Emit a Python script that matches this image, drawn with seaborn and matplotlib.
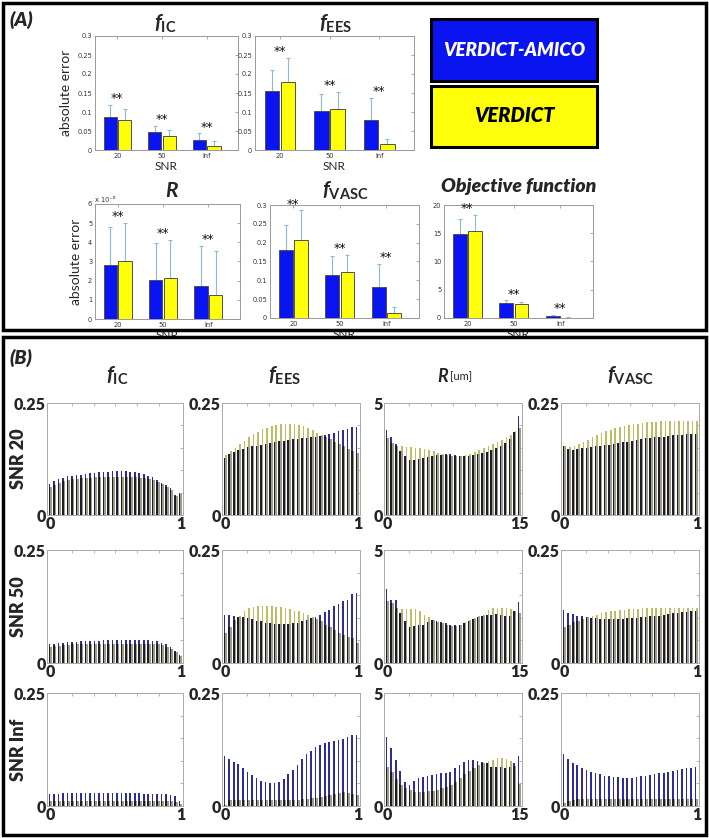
import numpy as np
import pandas as pd
import seaborn as sns
import matplotlib.pyplot as plt
from matplotlib.patches import Rectangle
from matplotlib.ticker import FixedLocator, FuncFormatter

# ---------------- panel A : mean absolute error (+ upper std) ----------------
snr = ['20', '50', 'Inf']
methods = ['VERDICT-AMICO', 'VERDICT']

fic_amico = [0.088, 0.047, 0.027]
fic_verdict = [0.079, 0.038, 0.011]
fic_amico_err = [0.030, 0.016, 0.017]
fic_verdict_err = [0.029, 0.014, 0.012]

fees_amico = [0.155, 0.102, 0.080]
fees_verdict = [0.178, 0.109, 0.015]
fees_amico_err = [0.056, 0.046, 0.057]
fees_verdict_err = [0.065, 0.043, 0.015]

r_amico = [2.80, 2.03, 1.70]          # x 1e-6
r_verdict = [3.05, 2.15, 1.25]
r_amico_err = [2.00, 1.94, 2.12]
r_verdict_err = [1.97, 1.98, 2.30]

fvasc_amico = [0.180, 0.114, 0.082]
fvasc_verdict = [0.208, 0.122, 0.013]
fvasc_amico_err = [0.066, 0.051, 0.061]
fvasc_verdict_err = [0.078, 0.046, 0.016]

obj_amico = [14.9, 2.6, 0.3]
obj_verdict = [15.4, 2.4, 0.05]
obj_amico_err = [2.7, 0.5, 0.3]
obj_verdict_err = [2.9, 0.5, 0.05]

# ---------------- panel B : 30-bin histograms (AMICO, VERDICT) ----------------
ic20_a = [0.069, 0.075, 0.080, 0.083, 0.086, 0.087, 0.089, 0.090, 0.092, 0.093, 0.094, 0.096, 0.097, 0.097, 0.098,
          0.099, 0.099, 0.098, 0.097, 0.095, 0.093, 0.091, 0.088, 0.084, 0.078, 0.071, 0.066, 0.060, 0.044, 0.048]
ic20_v = [0.062, 0.068, 0.072, 0.075, 0.078, 0.080, 0.081, 0.082, 0.083, 0.083, 0.084, 0.084, 0.084, 0.085, 0.085,
          0.085, 0.085, 0.085, 0.085, 0.084, 0.083, 0.082, 0.080, 0.078, 0.074, 0.069, 0.063, 0.055, 0.042, 0.047]
ic50_a = [0.041, 0.043, 0.044, 0.045, 0.046, 0.047, 0.047, 0.048, 0.048, 0.049, 0.049, 0.049, 0.050, 0.050, 0.050,
          0.050, 0.050, 0.050, 0.050, 0.050, 0.050, 0.050, 0.050, 0.049, 0.048, 0.045, 0.041, 0.035, 0.027, 0.017]
ic50_v = [0.035, 0.037, 0.038, 0.039, 0.040, 0.041, 0.041, 0.042, 0.042, 0.042, 0.043, 0.043, 0.043, 0.043, 0.043,
          0.043, 0.043, 0.043, 0.043, 0.043, 0.043, 0.043, 0.042, 0.042, 0.041, 0.039, 0.036, 0.031, 0.024, 0.016]
icinf_a = [0.026, 0.027, 0.027, 0.028, 0.028, 0.028, 0.028, 0.028, 0.028, 0.028, 0.028, 0.028, 0.028, 0.028, 0.028,
           0.028, 0.028, 0.028, 0.028, 0.028, 0.028, 0.027, 0.027, 0.027, 0.027, 0.027, 0.026, 0.025, 0.022, 0.011]
icinf_v = [0.011, 0.012, 0.012, 0.012, 0.012, 0.012, 0.012, 0.012, 0.012, 0.012, 0.012, 0.012, 0.012, 0.012, 0.012,
           0.012, 0.012, 0.012, 0.012, 0.012, 0.012, 0.012, 0.012, 0.012, 0.012, 0.012, 0.011, 0.011, 0.009, 0.005]

ees20_a = [0.127, 0.136, 0.140, 0.145, 0.148, 0.151, 0.153, 0.155, 0.157, 0.159, 0.161, 0.163, 0.165, 0.166, 0.168,
           0.169, 0.170, 0.171, 0.172, 0.173, 0.175, 0.177, 0.179, 0.181, 0.184, 0.187, 0.190, 0.193, 0.196, 0.197]
ees20_v = [0.134, 0.142, 0.150, 0.158, 0.166, 0.173, 0.180, 0.186, 0.191, 0.195, 0.198, 0.201, 0.203, 0.204, 0.204,
           0.203, 0.201, 0.198, 0.194, 0.189, 0.184, 0.179, 0.174, 0.169, 0.164, 0.159, 0.153, 0.147, 0.142, 0.138]
ees50_a = [0.106, 0.106, 0.104, 0.102, 0.101, 0.099, 0.097, 0.094, 0.092, 0.089, 0.088, 0.086, 0.086, 0.086, 0.086,
           0.088, 0.089, 0.092, 0.095, 0.099, 0.102, 0.106, 0.113, 0.117, 0.126, 0.130, 0.137, 0.140, 0.153, 0.154]
ees50_v = [0.066, 0.080, 0.095, 0.104, 0.114, 0.121, 0.125, 0.126, 0.126, 0.126, 0.126, 0.125, 0.123, 0.121, 0.119,
           0.116, 0.114, 0.110, 0.106, 0.101, 0.097, 0.092, 0.084, 0.080, 0.073, 0.067, 0.062, 0.058, 0.056, 0.044]
eesinf_a = [0.111, 0.105, 0.098, 0.093, 0.084, 0.076, 0.068, 0.062, 0.056, 0.053, 0.051, 0.051, 0.054, 0.060, 0.070,
            0.080, 0.091, 0.103, 0.115, 0.122, 0.130, 0.135, 0.139, 0.142, 0.144, 0.146, 0.149, 0.153, 0.156, 0.157]
eesinf_v = [0.002, 0.014, 0.014, 0.014, 0.014, 0.014, 0.014, 0.014, 0.014, 0.014, 0.014, 0.014, 0.014, 0.014, 0.014,
            0.014, 0.014, 0.015, 0.016, 0.017, 0.018, 0.020, 0.022, 0.024, 0.026, 0.029, 0.030, 0.029, 0.026, 0.024]

r20_a = [3.81, 3.50, 3.15, 2.85, 2.62, 2.45, 2.45, 2.50, 2.55, 2.58, 2.62, 2.66, 2.70, 2.72, 2.72,
         2.68, 2.65, 2.64, 2.65, 2.68, 2.72, 2.77, 2.83, 2.90, 2.98, 3.08, 3.20, 3.38, 3.72, 4.40]
r20_v = [3.43, 3.22, 3.10, 3.06, 3.03, 3.02, 3.01, 3.00, 2.96, 2.92, 2.86, 2.79, 2.72, 2.68, 2.64,
         2.63, 2.64, 2.68, 2.74, 2.81, 2.90, 2.99, 3.07, 3.15, 3.25, 3.35, 3.46, 3.58, 3.75, 3.90]
r50_a = [3.28, 2.77, 2.78, 2.22, 1.85, 1.60, 1.63, 1.66, 1.70, 1.83, 1.90, 1.86, 1.80, 1.75, 1.70,
         1.66, 1.70, 1.76, 1.84, 1.95, 2.04, 2.08, 2.11, 2.14, 2.15, 2.13, 2.08, 2.10, 2.29, 2.69]
r50_v = [2.75, 2.66, 2.44, 2.40, 2.38, 2.38, 2.40, 2.30, 2.14, 2.04, 1.92, 1.82, 1.75, 1.68, 1.63,
         1.63, 1.70, 1.80, 1.92, 2.00, 2.07, 2.14, 2.35, 2.42, 2.44, 2.43, 2.44, 2.38, 2.32, 2.22]
rinf_a = [3.07, 2.55, 2.04, 1.56, 1.08, 0.93, 1.12, 1.22, 1.30, 1.33, 1.37, 1.42, 1.45, 1.47, 1.52,
          1.67, 1.81, 1.96, 2.04, 2.04, 2.01, 1.96, 1.92, 1.74, 1.71, 1.71, 1.67, 1.74, 1.92, 2.21]
rinf_v = [1.71, 1.52, 1.19, 0.93, 0.78, 0.71, 0.63, 0.63, 0.63, 0.66, 0.68, 0.71, 0.78, 0.86, 0.95,
          1.08, 1.22, 1.40, 1.55, 1.68, 1.80, 1.90, 1.98, 2.05, 2.11, 2.12, 2.08, 1.98, 1.78, 0.97]

vasc20_a = [0.153, 0.147, 0.146, 0.147, 0.149, 0.149, 0.151, 0.153, 0.154, 0.156, 0.157, 0.159, 0.160, 0.162, 0.164,
            0.166, 0.168, 0.169, 0.171, 0.172, 0.173, 0.174, 0.175, 0.177, 0.178, 0.178, 0.179, 0.180, 0.181, 0.181]
vasc20_v = [0.154, 0.151, 0.154, 0.159, 0.164, 0.168, 0.174, 0.179, 0.183, 0.187, 0.190, 0.194, 0.196, 0.199, 0.201,
            0.203, 0.204, 0.205, 0.207, 0.207, 0.208, 0.209, 0.209, 0.210, 0.210, 0.210, 0.210, 0.210, 0.210, 0.210]
vasc50_a = [0.118, 0.110, 0.108, 0.105, 0.103, 0.101, 0.100, 0.099, 0.098, 0.098, 0.098, 0.098, 0.098, 0.098, 0.099,
            0.099, 0.100, 0.101, 0.102, 0.103, 0.104, 0.105, 0.107, 0.108, 0.110, 0.111, 0.112, 0.113, 0.114, 0.114]
vasc50_v = [0.080, 0.085, 0.090, 0.094, 0.098, 0.101, 0.104, 0.107, 0.110, 0.112, 0.114, 0.116, 0.117, 0.118, 0.119,
            0.120, 0.120, 0.121, 0.121, 0.121, 0.121, 0.121, 0.121, 0.121, 0.121, 0.121, 0.121, 0.121, 0.121, 0.121]
vascinf_a = [0.116, 0.103, 0.095, 0.090, 0.085, 0.080, 0.076, 0.072, 0.070, 0.067, 0.066, 0.064, 0.064, 0.063, 0.063,
             0.063, 0.064, 0.066, 0.067, 0.068, 0.070, 0.072, 0.074, 0.076, 0.077, 0.079, 0.081, 0.084, 0.085, 0.087]
vascinf_v = [0.006, 0.012, 0.014, 0.015, 0.016, 0.016, 0.016, 0.016, 0.016, 0.016, 0.016, 0.016, 0.016, 0.016, 0.016,
             0.016, 0.016, 0.016, 0.016, 0.016, 0.016, 0.016, 0.016, 0.016, 0.016, 0.016, 0.016, 0.016, 0.016, 0.016]

frac_bins = np.linspace(0, 1, 30)
r_bins = np.linspace(0, 15, 30)

# ---------------- style ----------------
sns.set_style('white')
plt.rcParams['font.family'] = ['Lato', 'DejaVu Sans']
plt.rcParams['mathtext.fontset'] = 'custom'
plt.rcParams['mathtext.it'] = 'Lato:italic:bold'
plt.rcParams['mathtext.rm'] = 'Lato:bold'
plt.rcParams['mathtext.bf'] = 'Lato:bold'

BLUE = '#0a14f0'
YELLOW = '#ffff0a'
ERRC = '#8cb8e4'
BLUE_B = '#2c2c9a'
OLIVE_B = '#bdbd66'
DARK_L = '#1c1c2a'
DARK_R = '#9e9e86'

W, H = 709, 838
fig = plt.figure(figsize=(W / 100, H / 100), dpi=100)


def px_axes(x0, y0, x1, y1):
    return fig.add_axes([x0 / W, 1 - y1 / H, (x1 - x0) / W, (y1 - y0) / H])


def px_text(x, y, s, **kw):
    fig.text(x / W, 1 - y / H, s, **kw)


def panel_a(ax, amico, verdict, e_a, e_v, ymax, ystep, title, tx, ty, xlabel=True, ylabel=False):
    df = pd.DataFrame({'snr': snr * 2, 'val': amico + verdict,
                       'method': [methods[0]] * 3 + [methods[1]] * 3})
    sns.barplot(data=df, x='snr', y='val', hue='method', hue_order=methods, palette=[BLUE, YELLOW],
                saturation=1, width=0.65, gap=0.1, edgecolor='#505050', linewidth=0.7,
                errorbar=None, legend=False, ax=ax, zorder=2)
    tops = np.zeros(3)
    for cont, errs in zip(ax.containers, [e_a, e_v]):
        xs = [b.get_x() + b.get_width() / 2 for b in cont]
        hs = np.array([b.get_height() for b in cont])
        ax.errorbar(xs, hs, yerr=[np.zeros(3), errs], fmt='none', ecolor=ERRC,
                    elinewidth=0.8, capsize=1.2, capthick=0.8, zorder=1)
        tops = np.maximum(tops, hs + np.array(errs))
    for i in range(3):
        ax.text(i, tops[i] + 0.055 * ymax, '**', ha='center', va='center', fontsize=9,
                family='DejaVu Sans', color='#111')
    ax.set_xlim(-0.5, 2.7)
    ax.set_ylim(0, ymax)
    ax.yaxis.set_major_locator(FixedLocator(np.arange(0, ymax + ystep / 2, ystep)))
    ax.yaxis.set_major_formatter(FuncFormatter(lambda v, p: '%g' % round(v, 4)))
    ax.tick_params(which='both', direction='in', length=2, width=0.5, color='#888',
                   top=True, right=True, labelsize=4.8, labelcolor='#333', pad=2)
    for lab in ax.get_xticklabels() + ax.get_yticklabels():
        lab.set_family('DejaVu Sans')
    for sp in ax.spines.values():
        sp.set_color('#999')
        sp.set_linewidth(0.7)
    ax.set_xlabel('SNR' if xlabel else '', fontsize=8.5, labelpad=1.5)
    ax.set_ylabel('absolute error' if ylabel else '', fontsize=10, labelpad=4)
    px_text(tx, ty, title, ha='center', va='center', fontsize=15)


def panel_b(ax, bins, amico, verdict, ymax, ylab, xlab):
    a = np.array(amico)
    v = np.array(verdict)
    sp = bins[1] - bins[0]
    low = np.minimum(a, v)
    ax.bar(bins - 0.18 * sp, a, width=0.36 * sp, color=BLUE_B, linewidth=0)
    ax.bar(bins + 0.18 * sp, v, width=0.36 * sp, color=OLIVE_B, linewidth=0)
    ax.bar(bins - 0.18 * sp, low, width=0.36 * sp, color=DARK_L, linewidth=0)
    ax.bar(bins + 0.18 * sp, low, width=0.36 * sp, color=DARK_R, linewidth=0)
    span = bins[-1] - bins[0]
    ax.set_xlim(bins[0] - 0.026 * span, bins[-1] + 0.02 * span)
    ax.set_ylim(0, ymax)
    ax.xaxis.set_major_locator(FixedLocator([bins[0], bins[-1]]))
    ax.set_xticklabels(xlab)
    ax.yaxis.set_major_locator(FixedLocator([0, ymax]))
    ax.set_yticklabels(ylab)
    ax.xaxis.set_minor_locator(FixedLocator(np.linspace(bins[0], bins[-1], 7)))
    ax.yaxis.set_minor_locator(FixedLocator(np.linspace(0, ymax, 6)))
    ax.tick_params(which='both', direction='in', length=2, width=0.5, color='#999',
                   top=True, right=True, labelsize=11.5, pad=1)
    ax.tick_params(which='major', length=0)
    for lab in ax.get_xticklabels() + ax.get_yticklabels():
        lab.set_fontweight('heavy')
    for sp_ in ax.spines.values():
        sp_.set_color('#aaa')
        sp_.set_linewidth(0.7)
    ax.set_xlabel('')
    ax.set_ylabel('')


# ---------------- panel A layout ----------------
ax = px_axes(95, 36, 238, 150)
panel_a(ax, fic_amico, fic_verdict, fic_amico_err, fic_verdict_err, 0.3, 0.05,
        r'$f_{\mathrm{IC}}$', 165, 24, ylabel=True)
ax = px_axes(255, 36, 414, 150)
panel_a(ax, fees_amico, fees_verdict, fees_amico_err, fees_verdict_err, 0.3, 0.05,
        r'$f_{\mathrm{EES}}$', 336, 24)
ax = px_axes(95, 204, 240, 319)
panel_a(ax, r_amico, r_verdict, r_amico_err, r_verdict_err, 6, 1,
        r'$R$', 172, 191, ylabel=True)
ax.text(0.0, 1.005, 'x 10⁻⁶', transform=ax.transAxes, fontsize=4.8, color='#333',
        family='DejaVu Sans', va='bottom')
ax = px_axes(270, 205, 419, 318)
panel_a(ax, fvasc_amico, fvasc_verdict, fvasc_amico_err, fvasc_verdict_err, 0.3, 0.05,
        r'$f_{\mathrm{VASC}}$', 345, 191)
ax = px_axes(444, 205, 593, 318)
panel_a(ax, obj_amico, obj_verdict, obj_amico_err, obj_verdict_err, 20, 5, '', 519, 186)
px_text(519, 186, 'Objective function', ha='center', va='center', fontsize=14,
        fontweight='heavy', style='italic')

# legend boxes
fig.add_artist(Rectangle((431 / W, 1 - 81 / H), 166 / W, 62 / H, transform=fig.transFigure,
                         facecolor=BLUE, edgecolor='black', linewidth=2.2))
fig.add_artist(Rectangle((431 / W, 1 - 147 / H), 166 / W, 61 / H, transform=fig.transFigure,
                         facecolor=YELLOW, edgecolor='black', linewidth=2.2))
px_text(514, 50, methods[0], ha='center', va='center', fontsize=13.5, fontweight='heavy',
        style='italic', color='white')
px_text(514, 116, methods[1], ha='center', va='center', fontsize=14.5, fontweight='heavy',
        style='italic', color='black')

px_text(9, 20, '(A)', ha='left', va='center', fontsize=14, fontweight='heavy', style='italic')

# ---------------- panel B layout ----------------
cols_x = [(47, 183), (222, 360), (384, 522), (561, 699)]
rows_y = [(403, 515), (550, 663), (693, 806)]
row_names = ['SNR 20', 'SNR 50', 'SNR Inf']
data_b = [
    [(ic20_a, ic20_v), (ees20_a, ees20_v), (r20_a, r20_v), (vasc20_a, vasc20_v)],
    [(ic50_a, ic50_v), (ees50_a, ees50_v), (r50_a, r50_v), (vasc50_a, vasc50_v)],
    [(icinf_a, icinf_v), (eesinf_a, eesinf_v), (rinf_a, rinf_v), (vascinf_a, vascinf_v)],
]
for ri, (y0, y1) in enumerate(rows_y):
    for ci, (x0, x1) in enumerate(cols_x):
        ax = px_axes(x0, y0, x1, y1)
        a, v = data_b[ri][ci]
        if ci == 2:
            panel_b(ax, r_bins, a, v, 5, ['0', '5'], ['0', '15'])
        else:
            panel_b(ax, frac_bins, a, v, 0.25, ['0', '0.25'], ['0', '1'])
    px_text(19, (y0 + y1) / 2, row_names[ri], rotation=90, ha='center', va='center',
            fontsize=13, fontweight='heavy')

px_text(117, 376, r'$f_{\mathrm{IC}}$', ha='center', va='center', fontsize=15)
px_text(285, 376, r'$f_{\mathrm{EES}}$', ha='center', va='center', fontsize=15)
px_text(449, 376, r'$R$', ha='right', va='center', fontsize=13)
px_text(450, 377, '[um]', ha='left', va='center', fontsize=8)
px_text(630, 376, r'$f_{\mathrm{VASC}}$', ha='center', va='center', fontsize=15)
px_text(9, 358, '(B)', ha='left', va='center', fontsize=14, fontweight='heavy', style='italic')

# panel frames
fig.add_artist(Rectangle((3 / W, 1 - 330 / H), 703 / W, 327 / H, transform=fig.transFigure,
                         fill=False, edgecolor='black', linewidth=2.5))
fig.add_artist(Rectangle((3 / W, 1 - 835 / H), 703 / W, 498 / H, transform=fig.transFigure,
                         fill=False, edgecolor='black', linewidth=2.5))

fig.savefig('out.png', dpi=100)
